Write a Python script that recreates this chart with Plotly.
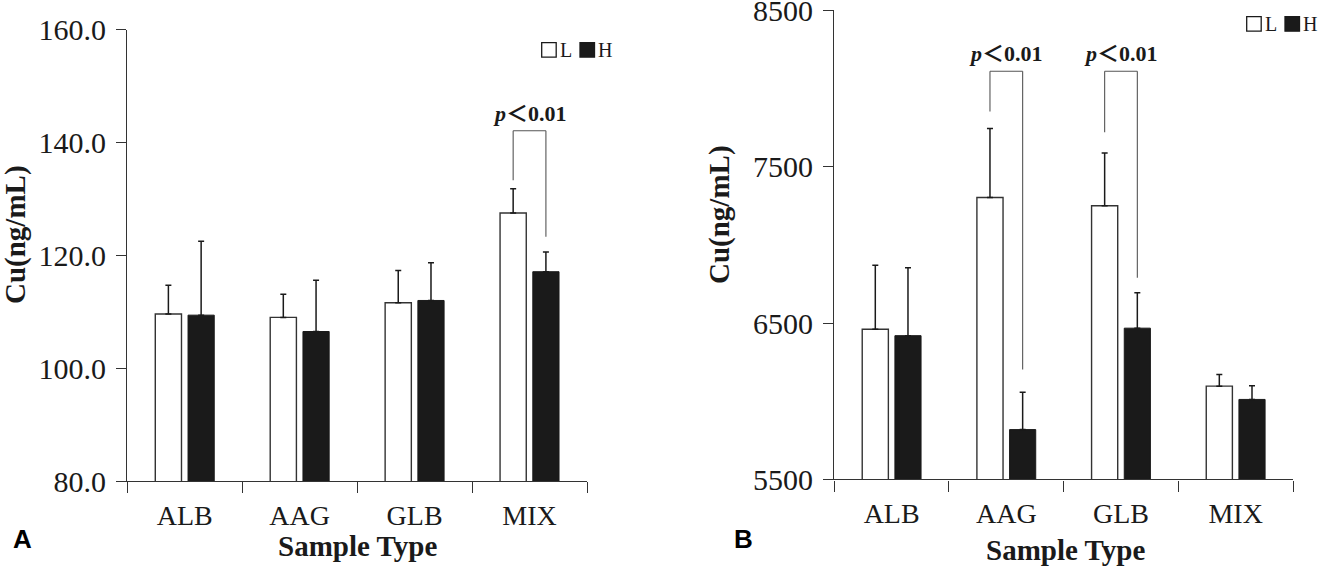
import plotly.graph_objects as go

# data
sample_types = ["ALB", "AAG", "GLB", "MIX"]

cu_low_a = [109.6, 109.0, 111.6, 127.5]
cu_low_a_err = [5.1, 4.1, 5.7, 4.3]
cu_high_a = [109.4, 106.5, 112.0, 117.1]
cu_high_a_err = [13.1, 9.1, 6.7, 3.5]

cu_low_b = [6460, 7303, 7250, 6096]
cu_low_b_err = [410, 442, 338, 74]
cu_high_b = [6419, 5818, 6467, 6011]
cu_high_b_err = [435, 239, 226, 88]

ticks_a = [80, 100, 120, 140, 160]
ticks_b = [5500, 6500, 7500, 8500]

# significance brackets: (category index, top, left leg end, right leg end)
brackets_a = [(3, 142.1, 133.3, 123.3)]
brackets_b = [(1, 8111, 7853, 6202), (2, 8111, 7720, 6789)]

W, H = 1324, 566
BARGAP = 0.43
OFF = (1 - BARGAP) / 4   # centre offset of each bar in a group

SERIF = "Liberation Serif, Times New Roman, serif"
INK = "#1a1a1a"
LINE = "#333333"


def px(x):
    return x / W


def py(y):
    return 1 - y / H


fig = go.Figure()

panels = [
    ("x", "y", cu_low_a, cu_low_a_err, cu_high_a, cu_high_a_err),
    ("x2", "y2", cu_low_b, cu_low_b_err, cu_high_b, cu_high_b_err),
]
for xa, ya, lo, lo_e, hi, hi_e in panels:
    fig.add_trace(go.Bar(
        x=sample_types, y=lo, xaxis=xa, yaxis=ya, name="L",
        marker=dict(color="white", line=dict(color=LINE, width=1.4)),
        error_y=dict(type="data", array=lo_e, arrayminus=[0] * 4, symmetric=False,
                     color=INK, thickness=1.5, width=3),
        showlegend=False,
    ))
    fig.add_trace(go.Bar(
        x=sample_types, y=hi, xaxis=xa, yaxis=ya, name="H",
        marker=dict(color=INK, line=dict(color=INK, width=1)),
        error_y=dict(type="data", array=hi_e, arrayminus=[0] * 4, symmetric=False,
                     color=INK, thickness=1.5, width=3),
        showlegend=False,
    ))

xaxis_style = dict(
    type="category", range=[-0.5, 3.5], tickson="boundaries",
    ticks="outside", ticklen=11, tickwidth=1.4, tickcolor=LINE,
    showline=True, linecolor=LINE, linewidth=1.4, showgrid=False,
    tickfont=dict(family=SERIF, size=28, color=INK), ticklabelstandoff=9,
    ticklabeloverflow="allow", automargin=False, fixedrange=True,
)
yaxis_style = dict(
    ticks="outside", ticklen=10, tickwidth=1.4, tickcolor=LINE,
    showline=True, linecolor=LINE, linewidth=1.4, showgrid=False, zeroline=False,
    tickfont=dict(family=SERIF, size=30, color=INK), ticklabelstandoff=4,
    ticklabeloverflow="allow", automargin=False, fixedrange=True,
)

fig.update_layout(
    template="none",
    width=W, height=H,
    margin=dict(l=0, r=0, t=0, b=0, pad=0),
    paper_bgcolor="white", plot_bgcolor="white",
    showlegend=False,
    barmode="group", bargap=BARGAP, bargroupgap=0.2,
    xaxis=dict(xaxis_style, domain=[px(127.3), px(587)], anchor="y"),
    yaxis=dict(yaxis_style, domain=[py(481), py(29.7)], anchor="x",
               range=[80, 160], tickvals=ticks_a, tickformat=".1f"),
    xaxis2=dict(xaxis_style, domain=[px(834.3), px(1293)], anchor="y2"),
    yaxis2=dict(yaxis_style, domain=[py(479.3), py(10.4)], anchor="x2",
                range=[5500, 8500], tickvals=ticks_b, tickformat="d"),
)

# brackets + p labels
for xa, ya, brs in [("x", "y", brackets_a), ("x2", "y2", brackets_b)]:
    for ci, top, left_end, right_end in brs:
        xl, xr = ci - OFF, ci + OFF
        for x0, y0, x1, y1 in [(xl, left_end, xl, top), (xl, top, xr, top), (xr, top, xr, right_end)]:
            fig.add_shape(type="line", xref=xa, yref=ya, x0=x0, y0=y0, x1=x1, y1=y1,
                          line=dict(color="#555555", width=1.1))
        fig.add_annotation(
            x=ci, y=top, xref=xa, yref=ya, xanchor="center", yanchor="bottom", yshift=3,
            showarrow=False, text="<b><i>p</i>＜0.01</b>",
            font=dict(family="Liberation Serif, Noto Sans CJK SC, serif", size=22, color=INK),
        )

# axis titles and panel letters
for x, y, ang, txt in [
    (15, 235, -90, "Cu(ng/mL)"), (719, 215, -90, "Cu(ng/mL)"),
    (357, 546, 0, "Sample Type"), (1065, 550, 0, "Sample Type"),
]:
    fig.add_annotation(x=px(x), y=py(y), xref="paper", yref="paper", showarrow=False,
                       xanchor="center", yanchor="middle",
                       textangle=ang, text="<b>" + txt + "</b>",
                       font=dict(family=SERIF, size=29, color=INK))
for x, txt in [(22, "A"), (743, "B")]:
    fig.add_annotation(x=px(x), y=py(539), xref="paper", yref="paper", showarrow=False,
                       xanchor="center", yanchor="middle", text="<b>" + txt + "</b>",
                       font=dict(family="Liberation Sans, Arial, sans-serif", size=26, color="black"))

# hand-drawn legends (L open box, H filled box)
for sq_l, sq_h, y_top in [(541.7, 580, 42.6), (1246.7, 1285, 16.7)]:
    for x0, fill, lab in [(sq_l, "white", "L"), (sq_h, INK, "H")]:
        fig.add_shape(type="rect", xref="paper", yref="paper",
                      x0=px(x0), x1=px(x0 + 14.5), y0=py(y_top + 14.5), y1=py(y_top),
                      fillcolor=fill, line=dict(color=INK, width=1.3))
        fig.add_annotation(x=px(x0 + 16), y=py(y_top + 7.5), xref="paper", yref="paper",
                           xanchor="left", yanchor="middle", showarrow=False, text=lab,
                           font=dict(family=SERIF, size=20, color=INK))

# drop the browser's default 8px page margin so the figure sits at the corner
fig.write_html("out.html", config={"displayModeBar": False},
               post_script="document.body.style.margin = '0';")
